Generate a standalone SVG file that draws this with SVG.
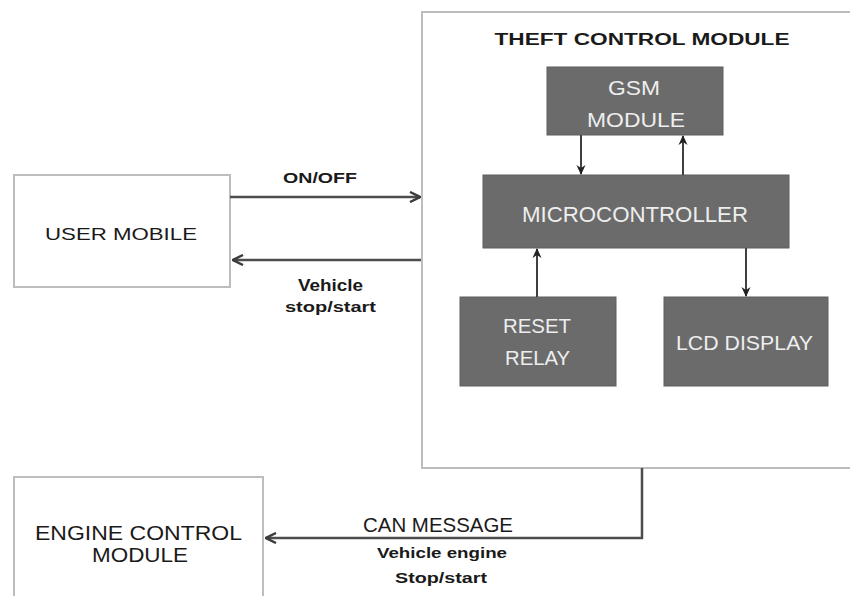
<svg xmlns="http://www.w3.org/2000/svg" width="850" height="596" viewBox="0 0 850 596">
<defs>
<style>
.wbox{fill:#fff;stroke:#bdbdbd;stroke-width:2}
.gbox{fill:#6b6b6b;stroke:#5e5e5e;stroke-width:1}
.conn{fill:none;stroke:#4d4d4d;stroke-width:2.5}
.inner{fill:none;stroke:#404040;stroke-width:2}
.dk{font-family:"Liberation Sans",Arial,sans-serif;fill:#1a1a1a}
.lt{font-family:"Liberation Sans",Arial,sans-serif;fill:#eeeeee}
.b{font-weight:bold}
</style>
<marker id="ah" viewBox="0 0 10 10" refX="9" refY="5" markerWidth="5" markerHeight="5" orient="auto" markerUnits="strokeWidth">
<path d="M1,1 L9,5 L1,9" fill="none" stroke="#3d3d3d" stroke-width="2"/>
</marker>
<marker id="ahs" viewBox="0 0 10 10" refX="9" refY="5" markerWidth="5" markerHeight="5" orient="auto" markerUnits="strokeWidth">
<path d="M0,0.5 L10,5 L0,9.5 L3,5 Z" fill="#222"/>
</marker>
</defs>
<rect width="850" height="596" fill="#fff"/>

<g id="theft-control-module">
<rect class="wbox" x="422" y="12" width="430" height="456"/>
<text class="dk b" x="642" y="45" font-size="16" text-anchor="middle" textLength="295" lengthAdjust="spacingAndGlyphs">THEFT CONTROL MODULE</text>
</g>

<g id="user-mobile">
<rect class="wbox" x="14" y="175" width="216" height="112"/>
<text class="dk" x="121" y="240" font-size="17" text-anchor="middle" textLength="152" lengthAdjust="spacingAndGlyphs">USER MOBILE</text>
</g>

<g id="engine-control-module">
<rect class="wbox" x="14" y="477" width="249" height="125"/>
<text class="dk" x="138.5" y="540" font-size="21" text-anchor="middle" textLength="207" lengthAdjust="spacingAndGlyphs">ENGINE CONTROL</text>
<text class="dk" x="140" y="562" font-size="21" text-anchor="middle" textLength="96" lengthAdjust="spacingAndGlyphs">MODULE</text>
</g>

<g id="gsm-module">
<rect class="gbox" x="547" y="67" width="176" height="68"/>
<text class="lt" x="634" y="95" font-size="21" text-anchor="middle" textLength="52" lengthAdjust="spacingAndGlyphs">GSM</text>
<text class="lt" x="636" y="127" font-size="21" text-anchor="middle" textLength="98" lengthAdjust="spacingAndGlyphs">MODULE</text>
</g>

<g id="microcontroller">
<rect class="gbox" x="483" y="175" width="306" height="73"/>
<text class="lt" x="635" y="222" font-size="22" text-anchor="middle" textLength="226" lengthAdjust="spacingAndGlyphs">MICROCONTROLLER</text>
</g>

<g id="reset-relay">
<rect class="gbox" x="460" y="297" width="156" height="89"/>
<text class="lt" x="537" y="333" font-size="21" text-anchor="middle" textLength="68" lengthAdjust="spacingAndGlyphs">RESET</text>
<text class="lt" x="537.5" y="365" font-size="21" text-anchor="middle" textLength="65" lengthAdjust="spacingAndGlyphs">RELAY</text>
</g>

<g id="lcd-display">
<rect class="gbox" x="664" y="297" width="164" height="89"/>
<text class="lt" x="744.5" y="350" font-size="21" text-anchor="middle" textLength="137" lengthAdjust="spacingAndGlyphs">LCD DISPLAY</text>
</g>

<g id="connectors">
<line class="conn" x1="230" y1="197" x2="420" y2="197" marker-end="url(#ah)"/>
<line class="conn" x1="421" y1="260" x2="233" y2="260" marker-end="url(#ah)"/>
<polyline class="conn" points="642,468 642,538 266,538" marker-end="url(#ah)"/>
<line class="inner" x1="581" y1="135" x2="581" y2="174" marker-end="url(#ahs)"/>
<line class="inner" x1="683" y1="175" x2="683" y2="136" marker-end="url(#ahs)"/>
<line class="inner" x1="537" y1="297" x2="537" y2="249" marker-end="url(#ahs)"/>
<line class="inner" x1="746" y1="248" x2="746" y2="296" marker-end="url(#ahs)"/>
</g>

<g id="labels">
<text class="dk b" x="320" y="183" font-size="15" text-anchor="middle" textLength="74" lengthAdjust="spacingAndGlyphs">ON/OFF</text>
<text class="dk b" x="330.5" y="291" font-size="16" text-anchor="middle" textLength="65" lengthAdjust="spacingAndGlyphs">Vehicle</text>
<text class="dk b" x="330.5" y="312" font-size="14" text-anchor="middle" textLength="91" lengthAdjust="spacingAndGlyphs">stop/start</text>
<text class="dk" x="438" y="532" font-size="21" text-anchor="middle" textLength="150" lengthAdjust="spacingAndGlyphs">CAN MESSAGE</text>
<text class="dk b" x="442" y="558" font-size="14" text-anchor="middle" textLength="130" lengthAdjust="spacingAndGlyphs">Vehicle engine</text>
<text class="dk b" x="441" y="583" font-size="15" text-anchor="middle" textLength="92" lengthAdjust="spacingAndGlyphs">Stop/start</text>
</g>
</svg>
